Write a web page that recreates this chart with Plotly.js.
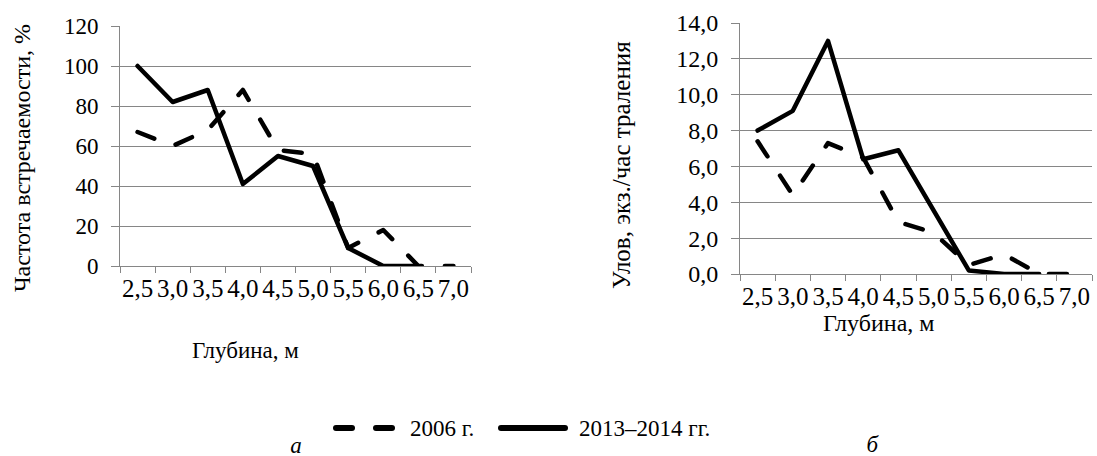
<!DOCTYPE html>
<html>
<head>
<meta charset="utf-8">
<script src="https://cdn.plot.ly/plotly-3.0.1.min.js"></script>
<style>
  html, body { margin: 0; padding: 0; background: #fff; }
  #chart { width: 1097px; height: 456px; }
  .scatterlayer path.js-line { stroke-linecap: round; stroke-linejoin: round; }
  .shapelayer path { stroke-linecap: round; }
</style>
</head>
<body>
<div id="chart"></div>
<script>
// Depth classes, m
const depths = ["2,5", "3,0", "3,5", "4,0", "4,5", "5,0", "5,5", "6,0", "6,5", "7,0"];

// (а) Frequency of occurrence, %
const freq2006 = [67, 60, 68, 88, 58, 56, 9, 18, 0, 0];
const freq2013 = [100, 82, 88, 41, 55, 50, 9, 0, 0, null];

// (б) Catch, ind. per trawling hour
const catch2006 = [7.4, 4.4, 7.3, 6.5, 2.9, 2.3, 0.5, 1.1, 0, 0];
const catch2013 = [8.0, 9.1, 13.0, 6.4, 6.9, 3.5, 0.2, 0.0, 0.0, null];

const seriesNames = ["2006 г.", "2013–2014 гг."];
const panelLetters = ["а", "б"];

const W = 1097, H = 456;
const px = x => x / W;
const py = y => 1 - y / H;

const FONT = "Liberation Serif";
const GRAY = "#868686";
const dashStyle = "18px,23px";

function line(x, y, name, dashed, xa, ya) {
  return {
    x: x, y: y, name: name, type: "scatter", mode: "lines",
    xaxis: xa, yaxis: ya, showlegend: false, hoverinfo: "skip",
    connectgaps: false,
    line: { color: "#000", width: 4.5, dash: dashed ? dashStyle : "solid" }
  };
}

const traces = [
  line(depths, freq2006, seriesNames[0], true, "x", "y"),
  line(depths, freq2013, seriesNames[1], false, "x", "y"),
  line(depths, catch2006, seriesNames[0], true, "x2", "y2"),
  line(depths, catch2013, seriesNames[1], false, "x2", "y2")
];

function xAxis(domain, anchor, fs) {
  return {
    domain: domain, anchor: anchor, type: "category",
    range: [-0.5, depths.length - 0.5],
    tickson: "boundaries", ticks: "outside", ticklen: 6, tickcolor: GRAY, tickwidth: 1,
    tickangle: 0,
    showline: true, linecolor: GRAY, linewidth: 1,
    showgrid: false, zeroline: false, fixedrange: true,
    tickfont: { family: FONT, size: fs, color: "#000" }
  };
}
function yAxis(domain, anchor, range, dtick, fmt, fs) {
  return {
    domain: domain, anchor: anchor, range: range, dtick: dtick, tickformat: fmt,
    ticks: "outside", ticklen: 8, tickcolor: GRAY, tickwidth: 1,
    showline: true, linecolor: GRAY, linewidth: 1,
    showgrid: true, gridcolor: GRAY, gridwidth: 1,
    zeroline: false, fixedrange: true, ticklabelstandoff: 8,
    tickfont: { family: FONT, size: fs, color: "#000" }
  };
}

const txt = (text, x, y, size, extra) => Object.assign({
  text: text, xref: "paper", yref: "paper", x: px(x), y: py(y),
  xanchor: "center", yanchor: "middle", showarrow: false,
  font: { family: FONT, size: size, color: "#000" }
}, extra || {});

const layout = {
  width: W, height: H,
  margin: { l: 0, r: 0, t: 0, b: 0 },
  paper_bgcolor: "#fff", plot_bgcolor: "#fff",
  separators: ", ",
  showlegend: false,
  font: { family: FONT, size: 23, color: "#000" },
  xaxis: xAxis([px(120), px(471)], "y", 25),
  yaxis: yAxis([py(266), py(26)], "x", [0, 120], 20, "d", 23),
  xaxis2: xAxis([px(740), px(1092)], "y2", 25),
  yaxis2: yAxis([py(274), py(23)], "x2", [0, 14], 2, ".1f", 24),
  annotations: [
    txt("Частота встречаемости, %", 22, 158, 24, { textangle: -90 }),
    txt("Глубина, м", 245, 350, 23),
    txt("Улов, экз./час траления", 621, 165, 25, { textangle: -90 }),
    txt("Глубина, м", 878, 323, 24),
    // legend labels
    txt(seriesNames[0], 408, 428, 23, { xanchor: "left" }),
    txt(seriesNames[1], 577, 428, 23, { xanchor: "left" }),
    // panel letters
    txt("<i>" + panelLetters[0] + "</i>", 296, 445, 23, { width: 30, height: 30, align: "center", valign: "middle" }),
    txt("<i>" + panelLetters[1] + "</i>", 873, 444, 23, { width: 30, height: 30, align: "center", valign: "middle" })
  ],
  shapes: [
    // legend samples
    { type: "line", xref: "paper", yref: "paper", x0: px(336), x1: px(352), y0: py(428), y1: py(428), line: { color: "#000", width: 6 } },
    { type: "line", xref: "paper", yref: "paper", x0: px(376), x1: px(392), y0: py(428), y1: py(428), line: { color: "#000", width: 6 } },
    { type: "line", xref: "paper", yref: "paper", x0: px(501), x1: px(565), y0: py(428), y1: py(428), line: { color: "#000", width: 6 } }
  ]
};

Plotly.newPlot("chart", traces, layout, { staticPlot: true, displayModeBar: false });
</script>
</body>
</html>
